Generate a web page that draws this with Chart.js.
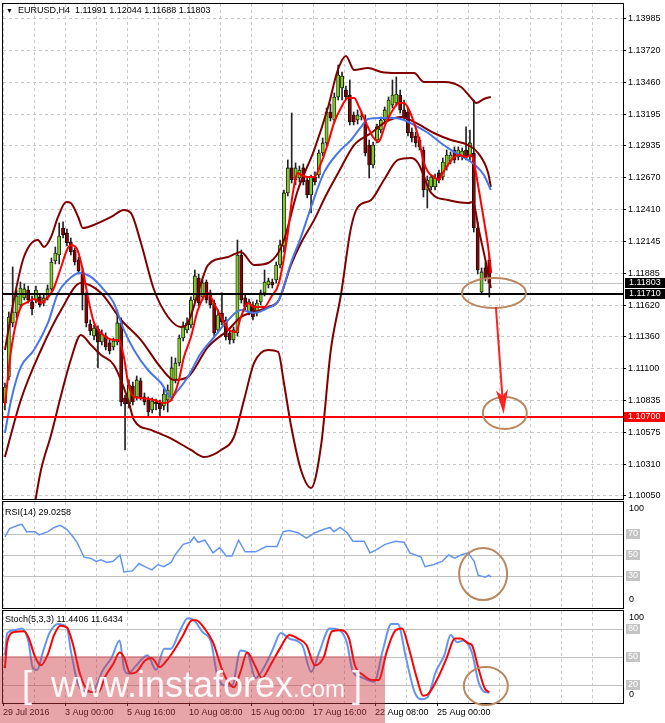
<!DOCTYPE html>
<html><head><meta charset="utf-8">
<script src="https://cdn.jsdelivr.net/npm/chart.js@4.4.0/dist/chart.umd.min.js"></script>
<style>
html,body{margin:0;padding:0;background:#fff;width:665px;height:723px;overflow:hidden;font-family:"Liberation Sans",Arial,sans-serif;}
.pane{position:absolute;left:0;width:665px;}
canvas{display:block;}
.ttl{position:absolute;left:5px;font-size:9px;line-height:12px;color:#000;white-space:pre;}
#wm{position:absolute;left:0;top:656px;width:385px;height:67px;background:rgba(205,55,65,0.45);overflow:hidden;color:rgba(255,255,255,0.93);}
#wm span{position:absolute;top:11px;font-size:36px;line-height:36px;white-space:pre;}
#wm small{font-size:24px;}
</style></head><body>
<div class="pane" style="top:0;height:500px"><canvas id="cMain" width="665" height="500"></canvas></div>
<div class="pane" style="top:500px;height:109px"><canvas id="cRsi" width="665" height="109"></canvas></div>
<div class="pane" style="top:609px;height:114px"><canvas id="cSto" width="665" height="114"></canvas></div>
<div class="ttl" style="top:4px;left:6px"><span style="font-size:7px">&#9660;</span>  EURUSD,H4  1.11991 1.12044 1.11688 1.11803</div>
<div class="ttl" style="top:506px">RSI(14) 29.0258</div>
<div class="ttl" style="top:613px">Stoch(5,3,3) 11.4406 11.6434</div>
<div id="wm"><span style="left:22px">[</span><span style="left:51px">www.instaforex<small>.com</small></span><span style="left:352px">]</span></div>
<script>
const xLabels = ["29 Jul 2016","3 Aug 00:00","5 Aug 16:00","10 Aug 08:00","15 Aug 00:00","17 Aug 16:00","22 Aug 08:00","25 Aug 00:00"];
const priceTicks = [1.13985,1.13720,1.13460,1.13195,1.12935,1.12670,1.12410,1.12145,1.11885,1.11620,1.11360,1.11100,1.10835,1.10575,1.10310,1.10050];
const levels = {bid:1.11803, black:1.11710, support:1.10700};
const rsiLevels = [70,50,30];
const stochLevels = [80,50,20];

const open = [
1.10815,1.11030,1.11475,1.11557,1.11623,1.11681,1.11746,1.11648,1.11664,1.11689,
1.11639,1.11681,1.11755,1.11985,1.12035,1.12257,1.12216,1.12142,1.12076,1.11994,
1.11895,1.11705,1.11466,1.11367,1.11425,1.11318,1.11367,1.11310,1.11277,1.11318,
1.11475,1.10857,1.10807,1.10955,1.10865,1.10997,1.10865,1.10840,1.10758,1.10824,
1.10815,1.10791,1.10840,1.10857,1.11005,1.11145,1.11351,1.11417,1.11458,1.11664,
1.11845,1.11689,1.11812,1.11722,1.11639,1.11417,1.11557,1.11499,1.11392,1.11334,
1.11392,1.12035,1.11681,1.11565,1.11623,1.11557,1.11648,1.11722,1.11788,1.11812,
1.11829,1.11952,1.12109,1.12546,1.12752,1.12653,1.12669,1.12752,1.12653,1.12529,
1.12678,1.12694,1.12875,1.12958,1.13213,1.13147,1.13337,1.13411,1.13394,1.13353,
1.13188,1.13147,1.13172,1.13131,1.12941,1.12776,1.12982,1.13065,1.13147,1.13172,
1.13271,1.13287,1.13353,1.13230,1.13213,1.13048,1.13015,1.12982,1.12900,1.12570,
1.12595,1.12595,1.12711,1.12678,1.12760,1.12809,1.12900,1.12842,1.12842,1.12900,
1.12842,1.12875,1.12257,1.11730,1.11928,1.11991];
const high = [
1.10980,1.11565,1.11936,1.11746,1.11812,1.11796,1.11779,1.11697,1.11779,1.11713,
1.11705,1.11788,1.12010,1.12101,1.12299,1.12307,1.12249,1.12175,1.12093,1.12018,
1.11928,1.11730,1.11499,1.11458,1.11450,1.11417,1.11392,1.11334,1.11351,1.11582,
1.11516,1.10881,1.11005,1.10988,1.11038,1.11021,1.10898,1.10865,1.10857,1.10848,
1.10840,1.10931,1.10964,1.11194,1.11186,1.11376,1.11483,1.11516,1.11689,1.11911,
1.11878,1.11829,1.11829,1.11746,1.11664,1.11582,1.11722,1.11524,1.11417,1.11442,
1.12158,1.12076,1.11705,1.11672,1.11648,1.11664,1.11746,1.11911,1.11845,1.11837,
1.11977,1.12158,1.12570,1.12818,1.13205,1.12793,1.12768,1.12785,1.12678,1.12694,
1.12719,1.12900,1.12999,1.13246,1.13279,1.13370,1.13600,1.13543,1.13427,1.13477,
1.13213,1.13230,1.13213,1.13188,1.12982,1.12966,1.13114,1.13172,1.13254,1.13337,
1.13477,1.13502,1.13394,1.13312,1.13246,1.13081,1.13048,1.13007,1.12925,1.12686,
1.12694,1.12702,1.12735,1.12834,1.12900,1.12884,1.12925,1.12925,1.12917,1.13090,
1.13065,1.13312,1.12307,1.11928,1.11977,1.12044];
const low = [
1.10758,1.11005,1.11442,1.11516,1.11598,1.11664,1.11639,1.11540,1.11639,1.11606,
1.11615,1.11664,1.11738,1.11961,1.11961,1.12175,1.12109,1.12035,1.11952,1.11878,
1.11582,1.11442,1.11376,1.11334,1.11104,1.11293,1.11252,1.11219,1.11252,1.11293,
1.10791,1.10428,1.10774,1.10799,1.10840,1.10840,1.10799,1.10700,1.10733,1.10758,
1.10708,1.10758,1.10741,1.10832,1.10980,1.11120,1.11326,1.11392,1.11433,1.11639,
1.11615,1.11664,1.11639,1.11598,1.11367,1.11392,1.11458,1.11334,1.11301,1.11310,
1.11367,1.11639,1.11582,1.11540,1.11499,1.11532,1.11623,1.11697,1.11763,1.11763,
1.11804,1.11928,1.12060,1.12521,1.12628,1.12612,1.12636,1.12612,1.12505,1.12381,
1.12612,1.12669,1.12851,1.12933,1.13139,1.13122,1.13312,1.13312,1.13312,1.13106,
1.13106,1.13114,1.13147,1.12851,1.12669,1.12752,1.12958,1.13040,1.13122,1.13147,
1.13246,1.13263,1.13205,1.13147,1.13015,1.12966,1.12925,1.12900,1.12513,1.12422,
1.12570,1.12570,1.12628,1.12653,1.12735,1.12785,1.12793,1.12818,1.12818,1.12818,
1.12818,1.12224,1.11878,1.11713,1.11821,1.11688];
const close = [
1.10947,1.11524,1.11565,1.11697,1.11763,1.11755,1.11664,1.11590,1.11746,1.11623,
1.11681,1.11755,1.11977,1.12051,1.12191,1.12200,1.12134,1.12060,1.11977,1.11903,
1.11713,1.11475,1.11409,1.11433,1.11318,1.11384,1.11277,1.11244,1.11326,1.11475,
1.10824,1.10807,1.10964,1.10824,1.11005,1.10865,1.10824,1.10741,1.10832,1.10807,
1.10766,1.10889,1.10922,1.11104,1.11145,1.11351,1.11450,1.11475,1.11664,1.11862,
1.11639,1.11804,1.11664,1.11623,1.11392,1.11540,1.11483,1.11359,1.11334,1.11417,
1.12035,1.11664,1.11606,1.11648,1.11524,1.11639,1.11722,1.11812,1.11821,1.11788,
1.11952,1.12117,1.12546,1.12752,1.12653,1.12752,1.12735,1.12636,1.12529,1.12678,
1.12636,1.12875,1.12958,1.13213,1.13164,1.13337,1.13518,1.13510,1.13337,1.13131,
1.13131,1.13188,1.13180,1.12875,1.12776,1.12941,1.13090,1.13147,1.13230,1.13312,
1.13353,1.13361,1.13230,1.13172,1.13040,1.12999,1.12958,1.12925,1.12570,1.12653,
1.12678,1.12669,1.12653,1.12801,1.12859,1.12859,1.12818,1.12900,1.12892,1.12842,
1.12958,1.12257,1.11911,1.11895,1.11845,1.11803];

const fastMaIdx = [0,1.6,4.1,5.4,7.5,9.3,10.6,12.4,14.5,16,17,18.6,20.1,21.4,23,24.8,28.1,29.4,30.7,31.8,33.3,35.1,38.5,41,42.9,44.7,46.2,48,49.8,52.4,53.9,55.8,57.8,59.6,60.9,62.7,64.3,66.9,68.7,70.7,73,74.3,75.6,76.4,78.2,79.8,81.6,83.4,84.9,86.7,88.5,90.1,91.4,93.2,95,96.3,97,98.3,100.1,101.7,103,104.3,105.6,106.9,107.9,109.2,110.7,112,113,114.3,115.9,117.2,119,120.3,121,122.3,123.6,124.7,125.5];
const fastMa = [1.10799,1.11252,1.11606,1.11639,1.11672,1.11639,1.11672,1.11746,1.11936,1.12076,1.12117,1.12084,1.11911,1.11689,1.11475,1.11392,1.11334,1.11334,1.11194,1.10980,1.10865,1.10857,1.10840,1.10815,1.10840,1.10980,1.11194,1.11359,1.11582,1.11722,1.11639,1.11524,1.11417,1.11400,1.11524,1.11639,1.11606,1.11606,1.11689,1.11804,1.12216,1.12546,1.12711,1.12694,1.12678,1.12678,1.12793,1.12958,1.13122,1.13246,1.13329,1.13329,1.13254,1.13122,1.13007,1.12966,1.12999,1.13122,1.13230,1.13287,1.13287,1.13230,1.13122,1.12982,1.12818,1.12719,1.12678,1.12653,1.12711,1.12776,1.12842,1.12859,1.12842,1.12859,1.12801,1.12570,1.12324,1.12101,1.11887];
const slowMaIdx = [0,1.6,4.1,7.5,11.1,13.7,16.3,19.1,22.2,25.6,28.1,30.7,33.3,36.9,40.3,42.9,44.7,47.2,50.6,54,57.6,60.9,64.3,67.9,70.7,73.8,76.4,79,82.3,85.9,89.3,91.9,93.7,97,100.4,103,105.6,109.2,112.5,115.9,119.5,121.6,123.6,125.4];
const slowMa = [1.10568,1.10840,1.11112,1.11252,1.11475,1.11722,1.11829,1.11887,1.11854,1.11746,1.11639,1.11417,1.11252,1.11087,1.10980,1.10865,1.10922,1.11030,1.11227,1.11359,1.11499,1.11582,1.11557,1.11598,1.11664,1.11969,1.12183,1.12430,1.12711,1.12875,1.12982,1.13090,1.13155,1.13164,1.13164,1.13147,1.13106,1.13040,1.12958,1.12884,1.12818,1.12768,1.12694,1.12570];
const bbUpIdx = [0,2.3,4.9,8.5,10.1,11.9,13.7,15.8,17,18.9,20.1,22.9,27.4,30.7,32.5,35.1,38.5,42.1,45.4,47.2,50.6,52.4,57.6,60.9,64.3,67.9,70.5,72,75.6,79.8,83.4,85.9,88,90.1,93.7,97.1,101.4,105.6,108.1,113.3,117.7,120.3,121.6,123.6,125.4];
const bbUp = [1.11252,1.11664,1.12018,1.12158,1.12101,1.12183,1.12348,1.12472,1.12463,1.12348,1.12257,1.12282,1.12348,1.12406,1.12381,1.12134,1.11746,1.11524,1.11442,1.11475,1.11804,1.11952,1.12018,1.12060,1.11952,1.11969,1.12051,1.12158,1.12570,1.12900,1.13254,1.13559,1.13675,1.13559,1.13576,1.13543,1.13535,1.13535,1.13460,1.13460,1.13419,1.13329,1.13287,1.13320,1.13337];
const bbMidIdx = [0,4.1,9.3,14.5,19.6,24.8,30,35.1,40.3,43.6,47.2,52.4,57.6,60.9,64.3,67.9,70.7,73.8,76.4,79.8,82.9,86,90.1,94.5,98.3,102.2,105.6,110.7,115.1,119.5,122.1,124.7,125.4];
const bbMid = [1.10370,1.10840,1.11252,1.11582,1.11804,1.11722,1.11499,1.11334,1.11104,1.11005,1.11030,1.11277,1.11417,1.11524,1.11565,1.11606,1.11664,1.11952,1.12134,1.12324,1.12529,1.12711,1.12941,1.13040,1.13131,1.13172,1.13131,1.13040,1.12982,1.12941,1.12875,1.12711,1.12595];
const bbLowIdx = [4.1,6.7,9.3,11.9,14.5,17,19.6,22.2,24.8,28.1,31.8,33.3,37.7,43.6,48,51.4,55.8,59.1,61.7,64.3,67.9,70.5,72,73.8,76.4,79,81.6,84.1,86.7,89.3,91.1,94.5,97.8,101.4,104.8,106.6,110,114.3,119.5,120.8,122.3,124.1,125.4];
const bbLow = [1.09522,1.09810,1.10263,1.10552,1.10881,1.11172,1.11376,1.11293,1.11211,1.11128,1.10840,1.10675,1.10593,1.10510,1.10428,1.10370,1.10428,1.10535,1.10840,1.11145,1.11252,1.11236,1.10980,1.10634,1.10263,1.10115,1.10469,1.11252,1.11705,1.12258,1.12430,1.12488,1.12653,1.12818,1.12834,1.12793,1.12546,1.12488,1.12463,1.12472,1.12241,1.11977,1.11763];

const rsiIdx = [0,1.2,3.4,4.4,5.6,7.8,8.8,11.1,12.7,14.3,16,17.6,18.6,20.4,22,23.6,24.8,26.3,27.9,29.7,30.7,32.9,34.6,36.1,37.9,39.5,41,42.9,43.9,46,47.8,48.8,49.8,51.6,53.7,55.4,57.1,58.6,60.3,62,64.7,67.4,70.2,71.8,73.4,75.6,77.8,80,82.2,83.9,84.9,86.5,88.3,89.8,92.7,94.2,95.9,98.1,100.8,103,104.5,107.4,108.4,110.7,112.8,114.5,116.1,117.7,119.5,121.1,122.1,123.9,124.9,125.5];
const rsi = [67,75,78,79,72,72,69,72,76,78,74,67,62,48,47,44,45.5,43,44,50,34,35,42,39,36,41,39,43,50,60,62,67,62,64,52,57,49,49,64,53,53,58,58,72,73,71,66,71,74,76,72,76,71,63,63,52,55,60,63,62,52,48,39,41,44,50,47,50,52,44,31,29,31,29.03];
const stochMainIdx = [0,0.6,2.3,4.4,6.1,7.2,8.3,9.9,11.6,13.7,16,17,18.7,20.3,22.5,25.3,27.5,29.6,30.7,31.8,33.5,36.8,39,41.1,42.8,45,47.2,48.8,51,53.2,54.8,57,58.6,60.8,62.5,64.7,66.9,69,71.2,73.4,76.7,79,81.1,83.8,86,88.2,89.8,92,95.3,97.5,99.7,101.4,103.5,105.7,107.4,109,111.2,113.4,115,116.7,118.3,120.5,122.2,123.8,125];
const stochMain = [52,76,79,81,66,38,36,57,77,86,82,57,23,13,12,36,49,68,38,32,39,52,36,59,59,77,92,90,77,66,30,19,19,57,55,27,39,57,76,70,63,34,55,81,80,66,34,28,23,57,86,86,49,12,4,6,34,52,74,66,68,55,23,12,11.44];
const stochSigIdx = [0,0.6,2.3,4.9,6.1,7.8,9.3,11,12.7,14.3,16,17.6,19.2,20.9,22.5,24.2,25.8,28,29.6,30.7,32.4,34,36.1,37.8,40,41.7,43.9,46,48.3,49.3,51.5,53.7,55.9,57.6,59.1,60.8,62.5,64.7,66.3,68.5,71.2,73.4,75.6,77.8,80,82.2,84.4,86.6,88.8,90.3,92.6,94.7,96.4,98.6,100.8,102.5,104,106.3,107.9,109,111.8,114,116.1,117.7,119.5,120.5,122.1,123.8,125];
const stochSig = [38,66,77,78,71,50,41,52,74,84,82,63,34,16,12,12,28,43,55,50,32,34,46,49,39,46,59,74,90,90,81,66,38,23,17,34,55,39,27,41,61,74,70,63,41,49,78,79,70,41,30,25,25,57,79,81,63,27,8,9,28,49,70,70,65,63,39,16,11.64];

// annotation marks (x in bar units, y in axis value)
const marks = {
  top:{x:126.7, y:1.11722, rx:32, ry:15},
  target:{x:129.5, y:1.10733, rx:22, ry:16},
  arrow:{x0:127.2, y0:1.11606, x1:129.2, y1:1.10725},
  rsi:{x:123.9, y:32, rx:24, ry:26},
  sto:{x:124.6, y:18.5, rx:22, ry:19}
};

const FONT = {family:'"Liberation Sans", Arial, sans-serif', size:9};
const GRID = '#c8c8c8';
const gridVals = [];
for (let v = 0; v <= 160; v += 8) gridVals.push(v);
const pts = (ix, vals) => ix.map((x,k)=>({x:x+0.5, y:vals[k]}));

function xScale(showLabels){
  return {
    type:'linear', min:0, max:160, offset:false,
    afterBuildTicks(s){ s.ticks = gridVals.map(v=>({value:v})); },
    afterFit(s){ s.paddingLeft=0; s.paddingRight=0; s.height = showLabels ? 20 : 0; },
    grid:{color:GRID, lineWidth:1, borderDash:[3,3], offset:false, drawTicks:showLabels, tickLength:3,
      tickColor:(c)=> (c.tick && c.tick.label) ? '#000' : 'rgba(0,0,0,0)'},
    border:{display:false, dash:[3,3]},
    ticks:{display:showLabels, autoSkip:false, maxRotation:0, minRotation:0, align:'start', padding:1, color:'#000', font:FONT,
      callback(v){ const k = v/16; return (Number.isInteger(k) && k < xLabels.length) ? xLabels[k] : ''; }}
  };
}
function subY(){
  return {position:'right', min:0, max:100,
    afterFit(s){ s.width=42; s.paddingTop=0; s.paddingBottom=0; },
    ticks:{display:false}, grid:{display:false}, border:{display:false}};
}
function frame(chart){
  const {ctx, chartArea:a} = chart;
  ctx.save(); ctx.strokeStyle='#000'; ctx.lineWidth=1;
  ctx.strokeRect(a.left-0.5, a.top-0.5, a.right-a.left+1, a.bottom-a.top+1);
  ctx.restore();
}
function hline(ctx, a, y, color, w){
  ctx.save(); ctx.strokeStyle=color; ctx.lineWidth=w;
  ctx.beginPath(); ctx.moveTo(a.left, y); ctx.lineTo(a.right, y); ctx.stroke(); ctx.restore();
}
function ellipse(ctx, cx, cy, rx, ry){
  ctx.save(); ctx.strokeStyle='#b9875f'; ctx.lineWidth=2;
  ctx.beginPath(); ctx.ellipse(cx, cy, rx, ry, 0, 0, Math.PI*2); ctx.stroke(); ctx.restore();
}
function axisBox(ctx, x, y, bg, txt){
  ctx.save(); ctx.fillStyle=bg; ctx.fillRect(x, Math.round(y)-5, 665-x, 10);
  ctx.fillStyle='#fff'; ctx.font='9px "Liberation Sans", Arial, sans-serif'; ctx.textBaseline='middle';
  ctx.fillText(txt, x+4, Math.round(y)); ctx.restore();
}

const mainDeco = {
  id:'mainDeco',
  beforeDatasetsDraw(chart){
    const {ctx, chartArea:a, scales:{y}} = chart;
    hline(ctx, a, Math.round(y.getPixelForValue(levels.bid))+0.5, '#c0c0c0', 1);
  },
  afterDatasetsDraw(chart){
    const {ctx, chartArea:a, scales:{y}} = chart;
    hline(ctx, a, Math.round(y.getPixelForValue(levels.black)), '#000', 2);
    hline(ctx, a, Math.round(y.getPixelForValue(levels.support)), '#ff0000', 2);
  },
  afterDraw(chart){
    const {ctx, chartArea:a, scales:{x, y}} = chart;
    frame(chart);
    axisBox(ctx, a.right+2, y.getPixelForValue(levels.bid), '#000', levels.bid.toFixed(5));
    axisBox(ctx, a.right+2, y.getPixelForValue(levels.black), '#000', levels.black.toFixed(5));
    axisBox(ctx, a.right+1, y.getPixelForValue(levels.support), '#ff0000', levels.support.toFixed(5));
    const t = marks.top, g = marks.target, ar = marks.arrow;
    ellipse(ctx, x.getPixelForValue(t.x), y.getPixelForValue(t.y), t.rx, t.ry);
    ellipse(ctx, x.getPixelForValue(g.x), y.getPixelForValue(g.y), g.rx, g.ry);
    const x0 = x.getPixelForValue(ar.x0), y0 = y.getPixelForValue(ar.y0);
    const x1 = x.getPixelForValue(ar.x1), y1 = y.getPixelForValue(ar.y1);
    const ang = Math.atan2(y1-y0, x1-x0), L = 24, W = 6;
    ctx.save(); ctx.strokeStyle='#ff2020'; ctx.fillStyle='#ff2020'; ctx.lineWidth=2;
    ctx.beginPath(); ctx.moveTo(x0,y0); ctx.lineTo(x1 - Math.cos(ang)*8, y1 - Math.sin(ang)*8); ctx.stroke();
    const bx = x1 - Math.cos(ang)*L, by = y1 - Math.sin(ang)*L;
    ctx.beginPath(); ctx.moveTo(x1,y1);
    ctx.lineTo(bx + Math.sin(ang)*W, by - Math.cos(ang)*W);
    ctx.lineTo(x1 - Math.cos(ang)*(L-6), y1 - Math.sin(ang)*(L-6));
    ctx.lineTo(bx - Math.sin(ang)*W, by + Math.cos(ang)*W);
    ctx.closePath(); ctx.fill(); ctx.restore();
  }
};

function subDeco(lv, mark){
  return {
    id:'subDeco',
    beforeDatasetsDraw(chart){
      const {ctx, chartArea:a, scales:{y}} = chart;
      lv.forEach(v=> hline(ctx, a, Math.round(y.getPixelForValue(v))+0.5, '#c0c0c0', 1));
    },
    afterDraw(chart){
      const {ctx, chartArea:a, scales:{x, y}} = chart;
      frame(chart);
      ctx.save(); ctx.font='9px "Liberation Sans", Arial, sans-serif'; ctx.textBaseline='middle';
      ctx.fillStyle='#000';
      ctx.fillText('100', a.right+6, a.top+7);
      ctx.fillText('0', a.right+6, a.bottom-8);
      lv.forEach(v=>{
        const py = Math.round(y.getPixelForValue(v));
        ctx.fillStyle='#c4c4c4'; ctx.fillRect(a.right+3, py-5, 14, 10);
        ctx.fillStyle='#fff'; ctx.fillText(String(v), a.right+5, py);
      });
      ctx.restore();
      ellipse(ctx, x.getPixelForValue(mark.x), y.getPixelForValue(mark.y), mark.rx, mark.ry);
    }
  };
}

const BULL = '#7fd01e', BEAR = '#8b0000', BBC = '#800000';
const wickData = open.map((_,i)=>({x:i+0.5, y:[low[i], high[i]]}));
const bodyData = open.map((o,i)=>({x:i+0.5, y:[o, close[i]]}));
const bodyColor = open.map((o,i)=> close[i] >= o ? BULL : BEAR);
const lineDs = (data, color, w, ord) => ({type:'line', data, borderColor:color, borderWidth:w, pointRadius:0,
  cubicInterpolationMode:'monotone', fill:false, order:ord});
const common = {responsive:false, animation:false, devicePixelRatio:1, events:[],
  plugins:{legend:{display:false}, tooltip:{enabled:false}}};

new Chart(document.getElementById('cMain'), {
  type:'bar',
  data:{datasets:[
    lineDs(pts(bbUpIdx,bbUp), BBC, 2, 3),
    lineDs(pts(bbMidIdx,bbMid), BBC, 2, 3),
    lineDs(pts(bbLowIdx,bbLow), BBC, 2, 3),
    lineDs(pts(slowMaIdx,slowMa), '#4876e8', 2, 2),
    lineDs(pts(fastMaIdx,fastMa), '#ff0000', 2, 1),
    {type:'bar', data:wickData, backgroundColor:'#222', barThickness:1, grouped:false, order:10},
    {type:'bar', data:bodyData, backgroundColor:bodyColor, borderColor:'#000', borderWidth:0.8, borderSkipped:false,
      barThickness:3.2, grouped:false, minBarLength:1, order:9}
  ]},
  options:Object.assign({}, common, {
    layout:{padding:{top:4, bottom:1, left:3, right:0}},
    scales:{
      x: xScale(false),
      y: {position:'right', min:1.10024, max:1.14103,
        afterBuildTicks(s){ s.ticks = priceTicks.map(v=>({value:v})); },
        afterFit(s){ s.width=42; s.paddingTop=0; s.paddingBottom=0; },
        grid:{color:GRID, lineWidth:1, borderDash:[3,3], drawTicks:true, tickLength:3, tickColor:'#000'},
        border:{display:false, dash:[3,3]},
        ticks:{padding:2, color:'#000', font:FONT, callback:v=>Number(v).toFixed(5)}}
    }
  }),
  plugins:[mainDeco]
});

new Chart(document.getElementById('cRsi'), {
  type:'line',
  data:{datasets:[{data:pts(rsiIdx,rsi), borderColor:'#6495ed', borderWidth:1.5, pointRadius:0, tension:0}]},
  options:Object.assign({}, common, {
    layout:{padding:{top:2, bottom:1, left:3, right:0}},
    scales:{x:xScale(false), y:subY()}
  }),
  plugins:[subDeco(rsiLevels, marks.rsi)]
});

new Chart(document.getElementById('cSto'), {
  type:'line',
  data:{datasets:[
    {data:pts(stochSigIdx,stochSig), borderColor:'#ff0000', borderWidth:2, pointRadius:0, cubicInterpolationMode:'monotone', order:1},
    {data:pts(stochMainIdx,stochMain), borderColor:'#6495ed', borderWidth:2, pointRadius:0, cubicInterpolationMode:'monotone', order:2}
  ]},
  options:Object.assign({}, common, {
    layout:{padding:{top:2, bottom:0, left:3, right:0}},
    scales:{x:xScale(true), y:subY()}
  }),
  plugins:[subDeco(stochLevels, marks.sto)]
});
</script>
</body></html>
